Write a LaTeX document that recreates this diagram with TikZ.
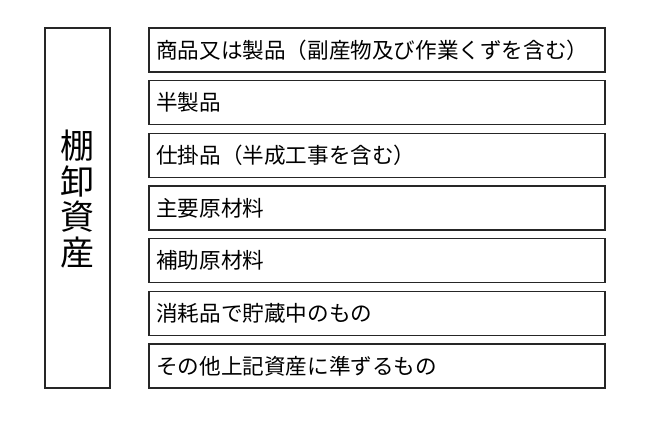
\documentclass[tikz,border=0pt]{standalone}
\usepackage{fontspec}
\newfontfamily\jp{Noto Sans CJK JP}
\begin{document}
\begin{tikzpicture}[x=1pt,y=-1pt,
  frame/.style={draw=black!85, line width=1.3pt},
  item/.style={anchor=west, inner sep=0pt, font=\jp\fontsize{21.6}{24}\selectfont}]
\useasboundingbox (0,0) rectangle (650,433);
\draw[frame] (45,28) rectangle (110,388);
\node[inner sep=0pt, align=center, font=\jp\fontsize{34}{35.5}\selectfont] (title) at (77.5,199) {棚\\卸\\資\\産};
\foreach \i/\t in {0/商品又は製品（副産物及び作業くずを含む）,1/半製品,2/仕掛品（半成工事を含む）,3/主要原材料,4/補助原材料,5/消耗品で貯蔵中のもの,6/その他上記資産に準ずるもの}{
  \pgfmathsetmacro{\top}{28+\i*52.67}
  \draw[frame] (149,\top) rectangle (605,\top+44);
  \node[item] (n\i) at (156,\top+22) {\t};
}
\end{tikzpicture}
\end{document}
